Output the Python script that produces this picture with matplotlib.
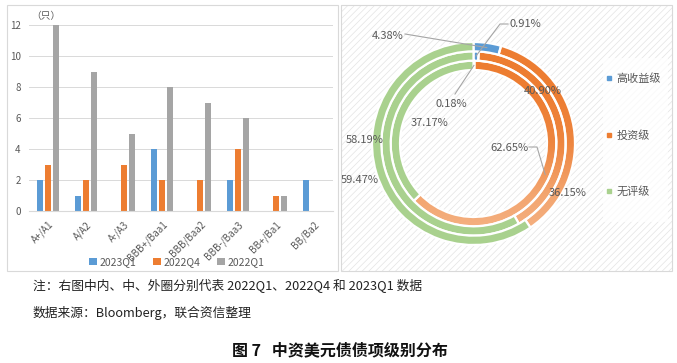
import numpy as np
import matplotlib.pyplot as plt
from matplotlib.patches import Rectangle
from matplotlib.lines import Line2D
from matplotlib.colors import LinearSegmentedColormap

plt.rcParams['font.family'] = ['Noto Sans CJK SC', 'DejaVu Sans']

# ==============================
# DATA
# ==============================

ratings = ["A+/A1", "A/A2", "A-/A3", "BBB+/Baa1", "BBB/Baa2", "BBB-/Baa3", "BB+/Ba1", "BB/Ba2"]
bar_series = ["2023Q1", "2022Q4", "2022Q1"]
q1_2023 = [2, 1, 0, 4, 0, 2, 0, 2]
q4_2022 = [3, 2, 3, 2, 2, 4, 1, 0]
q1_2022 = [12, 9, 5, 8, 7, 6, 1, 0]

grades = ["高收益级", "投资级", "无评级"]
ring_inner = [0.18, 62.65, 37.17]   # 2022Q1
ring_mid = [0.91, 40.90, 58.19]     # 2022Q4
ring_outer = [4.38, 36.15, 59.47]   # 2023Q1

note_text = "注：右图中内、中、外圈分别代表 2022Q1、2022Q4 和 2023Q1 数据"
source_text = "数据来源：Bloomberg，联合资信整理"
title_text = "图 7   中资美元债债项级别分布"

# ==============================
# LAYOUT HELPERS (pixels -> figure)
# ==============================

W, H = 677, 363


def fx(x):
    return x / W


def fy(y):
    return 1 - y / H


TXT = "#595959"
GRID = "#D9D9D9"

plt.rcParams['hatch.linewidth'] = 0.5
fig = plt.figure(figsize=(W / 100, H / 100), dpi=100)

# panel frames
fig.add_artist(Rectangle((fx(7), fy(271)), (338 - 7) / W, (271 - 5) / H,
                         transform=fig.transFigure, facecolor="white",
                         edgecolor=GRID, linewidth=0.8, zorder=0))
fig.add_artist(Rectangle((fx(341), fy(271)), (672 - 341) / W, (271 - 5) / H,
                         transform=fig.transFigure, facecolor="white",
                         edgecolor="#E4E4E4", hatch="/////", linewidth=0.0, zorder=0))
fig.add_artist(Rectangle((fx(341), fy(271)), (672 - 341) / W, (271 - 5) / H,
                         transform=fig.transFigure, facecolor="none",
                         edgecolor=GRID, linewidth=0.8, zorder=0.1))

# ==============================
# BAR CHART
# ==============================

ax = fig.add_axes([fx(29), fy(211), (333 - 29) / W, (211 - 25) / H])
ax.set_facecolor("none")
x = np.arange(len(ratings))
bw = 0.16
off = 0.22
bar_colors = ["#5B9BD5", "#ED7D31", "#A5A5A5"]
for i, (vals, name) in enumerate(zip([q1_2023, q4_2022, q1_2022], bar_series)):
    ax.bar(x + (i - 1) * off, vals, width=bw, color=bar_colors[i], label=name, zorder=2)

ax.set_xlim(-0.5, len(ratings) - 0.5)
ax.set_ylim(0, 12)
ax.set_yticks(range(0, 13, 2))
ax.grid(axis="y", color=GRID, linewidth=0.7, zorder=0)
for s in ["top", "right", "left"]:
    ax.spines[s].set_visible(False)
ax.spines["bottom"].set_color(GRID)
ax.tick_params(length=0, labelsize=7, colors=TXT, pad=6)
ax.set_xticks(x)
ax.set_xticklabels(ratings, rotation=45, ha="right", rotation_mode="anchor")
ax.text(-0.45, 12.25, "（只）", fontsize=7, color=TXT, ha="left", va="bottom")

fig.legend(*ax.get_legend_handles_labels(), loc="center",
           bbox_to_anchor=(fx(177), fy(262)), ncol=3, frameon=False,
           fontsize=7.5, labelcolor=TXT, handlelength=0.7, handleheight=0.7,
           handletextpad=0.3, columnspacing=1.6)

# ==============================
# DONUT CHART
# ==============================

cx, cy, R = 473.5, 143.5, 101.5
ax2 = fig.add_axes([fx(341), fy(271), (672 - 341) / W, (271 - 5) / H])
ax2.set_facecolor("none")

donut_colors = ["#5B9BD5", "#ED7D31", "#A9D18E"]
ring_w = 0.092
ring_r = [0.816, 0.908, 1.0]
orange_map = LinearSegmentedColormap.from_list(
    "og", ["#F5B588", "#F3A56F", "#EE8640", "#ED7D31", "#ED7D31"])
grad = np.linspace(0, 1, 256).reshape(-1, 1)

ring_wedges = []
for vals, r in zip([ring_inner, ring_mid, ring_outer], ring_r):
    wedges, _ = ax2.pie(vals, radius=r, startangle=90, counterclock=False,
                        colors=donut_colors,
                        wedgeprops=dict(width=ring_w, edgecolor="white", linewidth=1.6))
    ring_wedges.append(wedges)
    w = wedges[1]
    w.set_facecolor("none")
    im = ax2.imshow(grad, extent=(-1, 1, -1, 1), origin="lower", cmap=orange_map,
                    aspect="auto", zorder=0.5)
    im.set_clip_path(w)

ax2.set_aspect("auto")
ax2.set_xlim((341 - cx) / R, (672 - cx) / R)
ax2.set_ylim((cy - 271) / R, (cy - 5) / R)
ax2.axis("off")


def P(px, py):
    return (px - cx) / R, (cy - py) / R


def wedge_mid(w):
    ang = np.deg2rad((w.theta1 + w.theta2) / 2)
    rr = w.r - w.width / 2
    return rr * np.cos(ang), rr * np.sin(ang)


def label(px, py, s):
    ax2.text(*P(px, py), s, fontsize=8, color=TXT, ha="center", va="center", zorder=5)


def leader(points, w):
    xs = [P(*p)[0] for p in points]
    ys = [P(*p)[1] for p in points]
    ex, ey = wedge_mid(w)
    xs.append(ex)
    ys.append(ey)
    ax2.plot(xs, ys, color="#A6A6A6", linewidth=0.8, zorder=4)


inner_w, mid_w, outer_w = ring_wedges

label(525, 24, f"{ring_mid[0]:.2f}%")
leader([(508, 24), (500, 24)], mid_w[0])
label(388, 36, f"{ring_outer[0]:.2f}%")
leader([(405, 34)], outer_w[0])
label(451, 104, f"{ring_inner[0]:.2f}%")
leader([(455, 94)], inner_w[0])

label(543, 91, f"{ring_mid[1]:.2f}%")
label(509, 148, f"{ring_inner[1]:.2f}%")
leader([(529, 147), (537, 147)], inner_w[1])
label(568, 193, f"{ring_outer[1]:.2f}%")

label(430, 123, f"{ring_inner[2]:.2f}%")
label(365, 140, f"{ring_mid[2]:.2f}%")
label(360, 180, f"{ring_outer[2]:.2f}%")

# legend for donut
fig.add_artist(Rectangle((fx(603), fy(222)), (668 - 603) / W, (222 - 58) / H,
                         transform=fig.transFigure, facecolor="white", alpha=0.75,
                         edgecolor="none", zorder=1))
handles = [Line2D([], [], marker="s", linestyle="none", markersize=3,
                  markerfacecolor=c, markeredgecolor=c) for c in donut_colors]
fig.legend(handles, grades, loc="upper left", bbox_to_anchor=(fx(600), fy(68)),
           frameon=False, fontsize=8, labelcolor=TXT, handlelength=0.6,
           handletextpad=0.4, labelspacing=4.1, borderpad=0)

# ==============================
# NOTES / TITLE
# ==============================

fig.text(fx(33), fy(286), note_text, fontsize=9.2, color="#222222", va="center")
fig.text(fx(33), fy(313), source_text, fontsize=9.2, color="#222222", va="center")
fig.text(fx(340), fy(350), title_text, fontsize=11.5, fontweight="bold",
         color="#111111", ha="center", va="center")

fig.savefig("out.png", dpi=100)
